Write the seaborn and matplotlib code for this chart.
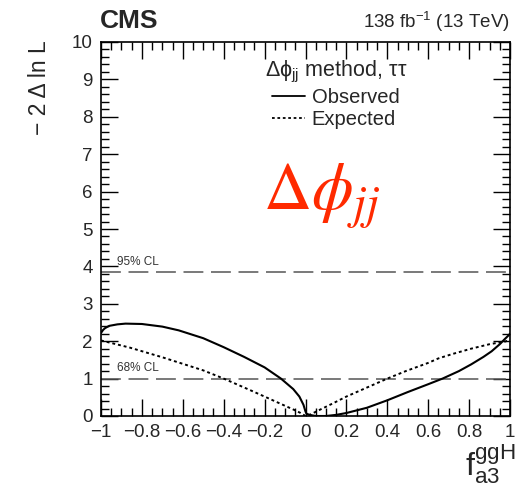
import matplotlib
matplotlib.use("Agg")
import matplotlib.pyplot as plt
from matplotlib.lines import Line2D
from matplotlib.ticker import MultipleLocator
import seaborn as sns
import pandas as pd

# ---- data ----
obs_x = [-1.0, -0.99, -0.98, -0.96, -0.92, -0.88, -0.8, -0.7, -0.62, -0.5, -0.4, -0.3, -0.2,
         -0.12, -0.06, -0.03, -0.01, 0.0, 0.005, 0.02, 0.05, 0.1, 0.15, 0.2, 0.3, 0.4,
         0.5, 0.6, 0.67, 0.75, 0.81, 0.87, 0.91, 0.95, 0.975, 0.99, 1.0]
obs_y = [2.22, 2.3, 2.35, 2.41, 2.45, 2.47, 2.46, 2.39, 2.29, 2.08, 1.84, 1.58, 1.30,
         1.0, 0.72, 0.52, 0.30, 0.12, 0.06, 0.03, 0.0, 0.0, 0.03, 0.08, 0.22, 0.42,
         0.64, 0.85, 1.0, 1.2, 1.38, 1.58, 1.73, 1.92, 2.06, 2.14, 2.2]
exp_x = [-1.0, -0.86, -0.7, -0.5, -0.4, -0.27, -0.18, -0.107, -0.05, -0.024, 0.0,
         0.02, 0.06, 0.135, 0.2, 0.3, 0.4, 0.49, 0.6, 0.65, 0.72, 0.81, 0.9, 0.975, 1.0]
exp_y = [2.02, 1.83, 1.57, 1.22, 1.0, 0.69, 0.47, 0.29, 0.15, 0.08, 0.0,
         0.03, 0.14, 0.34, 0.52, 0.76, 1.0, 1.2, 1.42, 1.54, 1.66, 1.80, 1.92, 1.99, 2.03]
cl_levels = [1.0, 3.84]
cl_labels = ["68% CL", "95% CL"]

sns.set_theme(style="white")
plt.rcParams['font.family'] = ['Liberation Sans', 'DejaVu Sans']
plt.rcParams['mathtext.fontset'] = 'custom'
plt.rcParams['mathtext.rm'] = 'Liberation Sans'
plt.rcParams['mathtext.it'] = 'Liberation Sans:italic'
plt.rcParams['mathtext.bf'] = 'Liberation Sans:bold'

fig = plt.figure(figsize=(5.21, 4.88), dpi=100)
ax = fig.add_axes([101/521, 1-416/488, 409/521, 374/488])

obs_df = pd.DataFrame({"x": obs_x, "y": obs_y})
exp_df = pd.DataFrame({"x": exp_x, "y": exp_y})
sns.lineplot(data=obs_df, x="x", y="y", ax=ax, color="black", lw=1.5,
             estimator=None, sort=False)
sns.lineplot(data=exp_df, x="x", y="y", ax=ax, color="black", lw=1.4,
             estimator=None, sort=False, linestyle=(0, (1.5, 1.5)))

for lev, lab in zip(cl_levels, cl_labels):
    ax.axhline(lev, color="#555555", lw=1.1, dashes=(13, 5), zorder=1)
    ax.text(-0.92, lev + 0.12, lab, fontsize=8.5, color="#333333",
            ha="left", va="bottom")

ax.set_xlim(-1, 1)
ax.set_ylim(0, 10)
ax.set_xlabel("")
ax.set_ylabel("")
ax.xaxis.set_major_locator(MultipleLocator(0.2))
ax.xaxis.set_minor_locator(MultipleLocator(0.05))
ax.yaxis.set_major_locator(MultipleLocator(1))
ax.yaxis.set_minor_locator(MultipleLocator(0.2))
ax.tick_params(which="both", direction="in", top=True, right=True,
               bottom=True, left=True, color="black", width=1)
ax.tick_params(which="major", length=12, labelsize=13.5, pad=6)
ax.tick_params(which="minor", length=6)
ax.set_xticks([-1, -0.8, -0.6, -0.4, -0.2, 0, 0.2, 0.4, 0.6, 0.8, 1])
ax.set_xticklabels(["\u22121", "\u22120.8", "\u22120.6", "\u22120.4", "\u22120.2",
                    "0", "0.2", "0.4", "0.6", "0.8", "1"])
for s in ax.spines.values():
    s.set_color("black")
    s.set_linewidth(1.2)

# legend
handles = [Line2D([], [], color="black", lw=1.3),
           Line2D([], [], color="black", lw=1.3, linestyle=(0, (1.5, 1.5)))]
leg = ax.legend(handles, ["Observed", "Expected"],
                title=r"$\mathregular{\Delta\phi_{jj}}$ method, $\mathregular{\tau\tau}$",
                loc="upper center", bbox_to_anchor=(336/521, 1-49/488),
                bbox_transform=fig.transFigure, frameon=False, fontsize=14.5,
                title_fontsize=15.5, handlelength=1.6, handletextpad=0.35,
                labelspacing=0.15, borderpad=0)

# big red label
ax.text(322/521, 1-210/488, r"$\Delta\phi_{jj}$", transform=fig.transFigure,
        fontsize=48, color="#ff2a00", ha="center", va="baseline",
        math_fontfamily="stix")

# header
fig.text(100/521, 1-28/488, "CMS", fontsize=19, fontweight="bold",
         ha="left", va="baseline")
fig.text(510/521, 1-28/488, r"138 fb$^{\mathregular{-1}}$ (13 TeV)", fontsize=13.5,
         ha="right", va="baseline")

# axis titles
fig.text(40/521, 1-40/488, "\u2212 2 \u0394 ln L", fontsize=16.5, rotation=90,
         ha="center", va="top")
fig.text(515/521, 1-486/488, r"$\mathregular{f_{a3}^{ggH}}$", fontsize=23,
         ha="right", va="bottom")

fig.savefig("out.png", dpi=100)
